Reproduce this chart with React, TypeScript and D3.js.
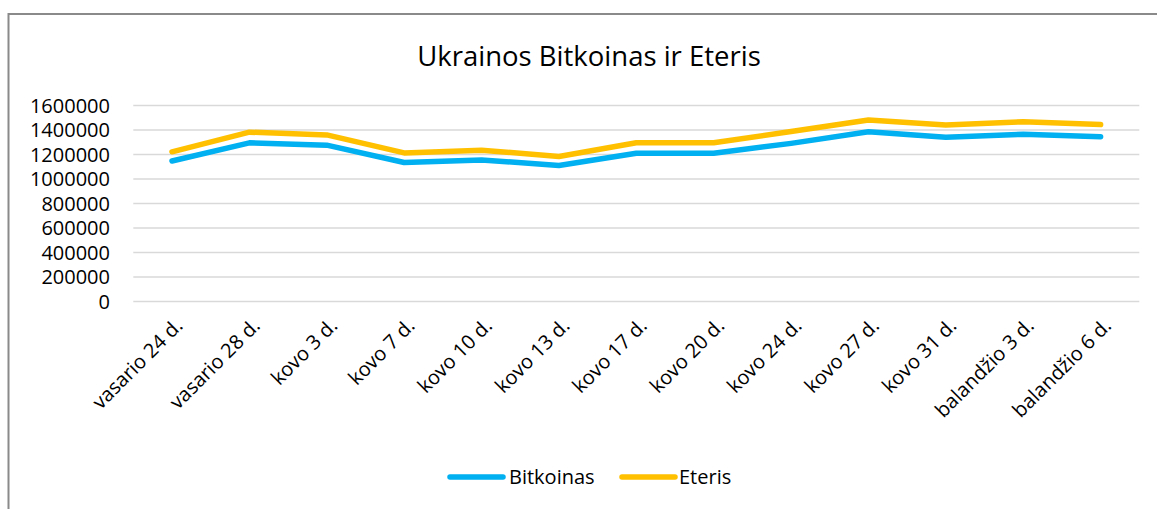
import React from "react";
import * as d3 from "d3";

const categories = [
  "vasario 24 d.",
  "vasario 28 d.",
  "kovo 3 d.",
  "kovo 7 d.",
  "kovo 10 d.",
  "kovo 13 d.",
  "kovo 17 d.",
  "kovo 20 d.",
  "kovo 24 d.",
  "kovo 27 d.",
  "kovo 31 d.",
  "balandžio 3 d.",
  "balandžio 6 d.",
];

const bitkoinas = [1147000, 1295000, 1276000, 1135000, 1156000, 1110000, 1210000, 1210000, 1291000, 1386000, 1340000, 1365000, 1345000];
const eteris = [1222000, 1382000, 1360000, 1213000, 1235000, 1184000, 1296000, 1296000, 1387000, 1481000, 1441000, 1468000, 1444000];

const yTicks = [0, 200000, 400000, 600000, 800000, 1000000, 1200000, 1400000, 1600000];

const seriesNames = ["Bitkoinas", "Eteris"];
const seriesColors = ["#00B0F0", "#FFC000"];

const W = 1157;
const H = 509;
const FONT = "'Open Sans', sans-serif";

export default function App() {
  const x = d3.scaleBand<string>().domain(categories).range([133.3, 1139.3]).padding(0);
  const y = d3.scaleLinear().domain([0, 1600000]).range([301.5, 105.5]);
  const cx = (c: string) => (x(c) as number) + x.bandwidth() / 2;

  const line = d3
    .line<number>()
    .x((_, i) => cx(categories[i]))
    .y((d) => y(d));

  const series = [bitkoinas, eteris];

  const legendItems = [
    { x1: 450, x2: 503, tx: 509 },
    { x1: 622, x2: 675, tx: 679 },
  ];

  return (
    <svg
      width={W}
      height={H}
      style={{ position: "absolute", left: 0, top: 0, background: "#fff" }}
      fontFamily={FONT}
    >
      <rect x={0} y={0} width={W} height={H} fill="#fff" />
      <rect x={8.5} y={14} width={W + 20} height={H + 20} fill="none" stroke="#8a8a8a" strokeWidth={2} />

      <text x={589} y={66} textAnchor="middle" fontSize={27.5} fill="#000">
        Ukrainos Bitkoinas ir Eteris
      </text>

      {yTicks.map((t) => (
        <g key={t}>
          <line x1={133.3} x2={1139.3} y1={y(t)} y2={y(t)} stroke="#d9d9d9" strokeWidth={1.4} />
          <text x={110} y={y(t)} dy="0.35em" textAnchor="end" fontSize={20} fill="#000">
            {t}
          </text>
        </g>
      ))}

      {categories.map((c) => (
        <text
          key={c}
          transform={`translate(${cx(c) + 7},${322}) rotate(-45)`}
          textAnchor="end"
          dy="0.35em"
          fontSize={20}
          fill="#000"
        >
          {c}
        </text>
      ))}

      {series.map((s, i) => (
        <path
          key={seriesNames[i]}
          d={line(s) as string}
          fill="none"
          stroke={seriesColors[i]}
          strokeWidth={5.5}
          strokeLinecap="round"
          strokeLinejoin="round"
        />
      ))}

      {legendItems.map((l, i) => (
        <g key={seriesNames[i]}>
          <line x1={l.x1} x2={l.x2} y1={477} y2={477} stroke={seriesColors[i]} strokeWidth={5.5} strokeLinecap="round" />
          <text x={l.tx} y={477} dy="0.35em" fontSize={20} fill="#000">
            {seriesNames[i]}
          </text>
        </g>
      ))}
    </svg>
  );
}
